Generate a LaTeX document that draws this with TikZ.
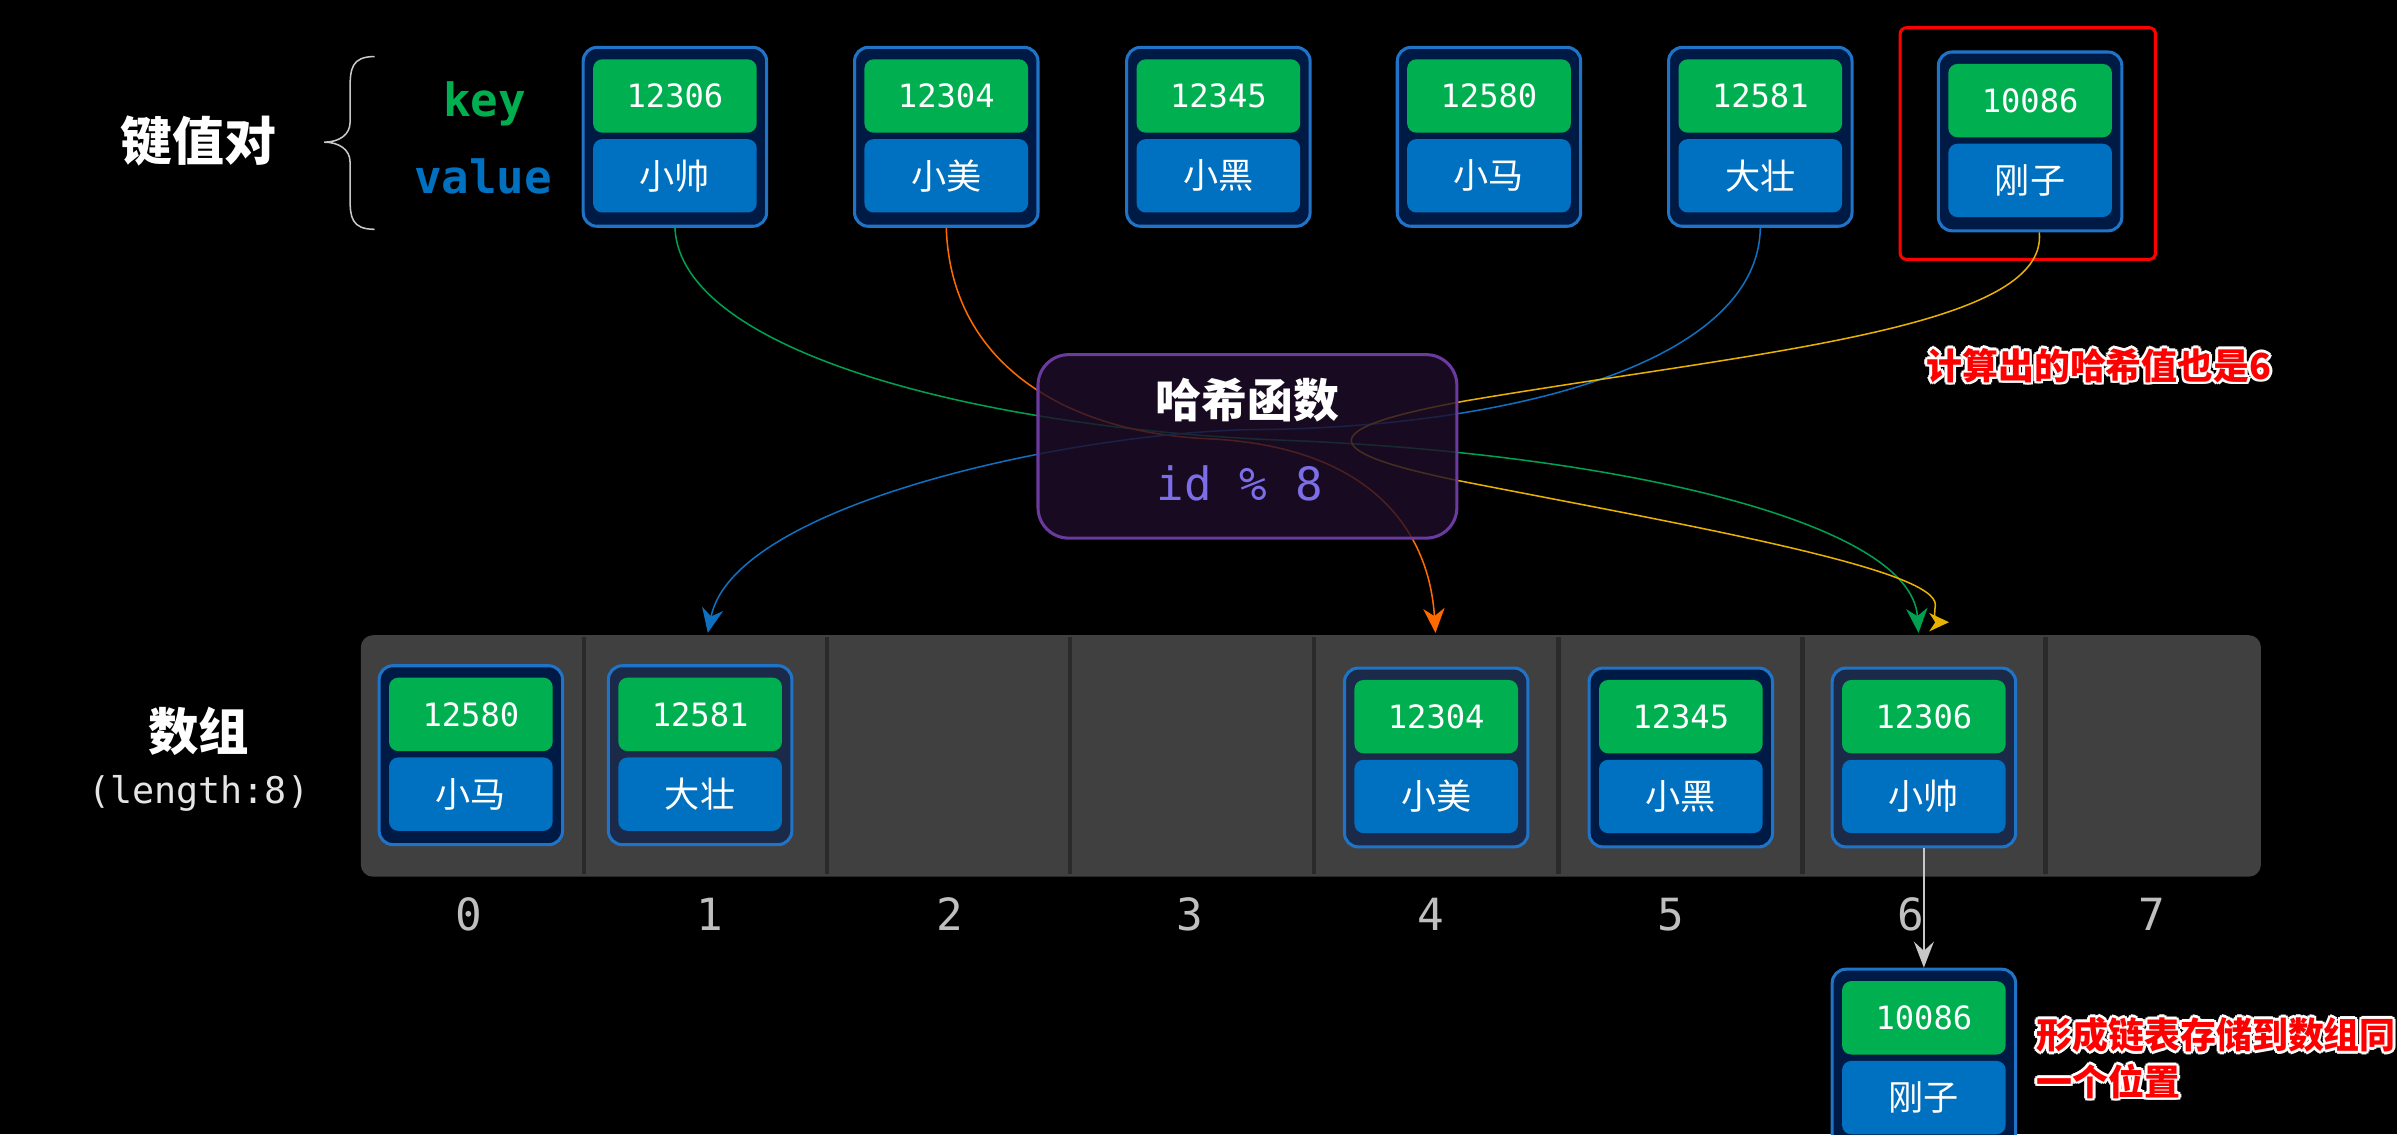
\documentclass[tikz,border=0pt]{standalone}
\usepackage{fontspec}
\usetikzlibrary{arrows.meta}
\newfontfamily\cjkf{Noto Sans CJK SC}
\newfontfamily\monof{DejaVu Sans Mono}
\definecolor{kgreen}{HTML}{00B050}
\definecolor{vblue}{HTML}{0070C0}
\definecolor{navy}{HTML}{001A46}
\definecolor{navyg}{HTML}{1B2A48}
\definecolor{bborder}{HTML}{1F74C8}
\definecolor{hfill}{HTML}{1E0D28}
\definecolor{hborder}{HTML}{6A3A9E}
\definecolor{idcol}{HTML}{7B6EE8}
\definecolor{arrfill}{HTML}{404040}
\definecolor{divc}{HTML}{2A2A2A}
\definecolor{cgreen}{HTML}{00A050}
\definecolor{corange}{HTML}{FF6A00}
\definecolor{cblue}{HTML}{1070C0}
\definecolor{cgold}{HTML}{E8B000}
\definecolor{idxcol}{HTML}{BFBFBF}
\tikzset{
  outerbox/.style={draw=bborder, line width=2pt, fill=#1, rounded corners=9pt,
    minimum width=120pt, minimum height=117pt, inner sep=0pt},
  keybox/.style={fill=kgreen, rounded corners=6pt, minimum width=107pt,
    minimum height=48pt, inner sep=0pt, text=white, font=\monof\fontsize{21}{21}\selectfont},
  valbox/.style={fill=vblue, rounded corners=6pt, minimum width=107pt,
    minimum height=48pt, inner sep=0pt, text=white, font=\cjkf\fontsize{23}{23}\selectfont},
  link/.style={line width=1pt, -{Stealth[length=16pt,width=14pt,inset=5pt]}},
  idxlabel/.style={text=idxcol, font=\monof\fontsize{29}{29}\selectfont, inner sep=0pt},
  redtxt/.style={text=red, font=\cjkf\bfseries\fontsize{23.5}{30.6}\selectfont, inner sep=0pt, align=left},
  divider/.style={draw=divc, line width=3pt},
}
\newcommand\kvbox[6]{%
  \node[outerbox=#6] (#1) at (#2,#3+58.5) {};
  \node[keybox] (#1k) at (#2,#3+31.8) {#4};
  \node[valbox] (#1v) at (#2,#3+84) {#5};
}
\newcommand\outl[4]{%
  \foreach \dx/\dy [count=\n] in {1.8/0,-1.8/0,0/1.8,0/-1.8,1.3/1.3,-1.3/1.3,1.3/-1.3,-1.3/-1.3}
    \node[redtxt, text=white, anchor=#3] (#1w\n) at ([shift={(\dx pt,\dy pt)}]#2) {#4};
  \node[redtxt, anchor=#3] (#1) at (#2) {#4};
}
\begin{document}
\begin{tikzpicture}[x=1pt, y=-1pt]
\useasboundingbox (0,0) rectangle (1568,742);
\clip (0,0) rectangle (1568,742);
\fill[black] (0,0) rectangle (1568,742);

% left titles
\node[text=white, font=\cjkf\bfseries\fontsize{34}{34}\selectfont] (kvtitle) at (130,92) {键值对};
\draw[color=idxcol!85, line width=1pt] (245,37) .. controls (230,37) and (229,45) .. (229,58)
  -- (229,80) .. controls (229,88) and (222,93) .. (212,93)
  .. controls (222,93) and (229,98) .. (229,106) -- (229,130)
  .. controls (229,142) and (230,150) .. (245,150);
\node[text=kgreen, font=\monof\bfseries\fontsize{30}{30}\selectfont] (keylbl) at (317,68) {key};
\node[text=vblue, font=\monof\bfseries\fontsize{30}{30}\selectfont] (vallbl) at (316,115.5) {value};

% top key-value boxes
\kvbox{t1}{441.5}{31}{12306}{小帅}{navy}
\kvbox{t2}{619}{31}{12304}{小美}{navy}
\kvbox{t3}{797}{31}{12345}{小黑}{navy}
\kvbox{t4}{974}{31}{12580}{小马}{navy}
\kvbox{t5}{1151.5}{31}{12581}{大壮}{navy}
\kvbox{t6}{1328}{34}{10086}{刚子}{navy}
\node[draw=red, line width=2pt, rounded corners=4pt, minimum width=167pt,
  minimum height=151.5pt, inner sep=0pt] (frame) at (1326.5,93.9) {};

% array
\node[fill=arrfill, rounded corners=8pt, minimum width=1243pt, minimum height=158pt,
  inner sep=0pt] (arr) at (857.5,494.5) {};
\foreach \xx in {382,541,700,859.6,1019.5,1179,1338}
  \draw[divider] (\xx,417) -- (\xx,572);

% endpoints on the array
\coordinate (e1) at (463,414);
\coordinate (e4) at (939,414);
\coordinate (e6) at (1255,414);
\coordinate (eg) at (1275,407);

% curves
\draw[link, cgreen] (t1.south) .. controls (445,230) and (640,280) .. (840,288)
  .. controls (1050,296) and (1250,340) .. (e6);
\draw[link, corange] (t2.south) .. controls (622,240) and (700,283) .. (790,287)
  .. controls (900,292) and (935,350) .. (e4);
\draw[link, cblue] (t5.south) .. controls (1150,240) and (980,280) .. (820,281)
  .. controls (700,283) and (480,330) .. (e1);
\draw[line width=1pt, cgold, -{Stealth[length=13pt,width=12pt,inset=4pt]}]
  ([xshift=6pt]t6.south) .. controls (1340,215) and (1150,230) .. (960,262)
  .. controls (860,280) and (860,295) .. (952,314)
  .. controls (1100,343) and (1268,372) .. (1266,396)
  .. controls (1265,403) and (1266,407) .. (eg);

% hash function
\node[fill=hfill, fill opacity=0.8, draw=hborder, line width=2pt, rounded corners=20pt,
  minimum width=274pt, minimum height=120pt, inner sep=0pt] (hash) at (816,292) {};
\node[text=white, font=\cjkf\bfseries\fontsize{30}{30}\selectfont] (hasht) at (816,262) {哈希函数};
\node[text=idcol, font=\monof\fontsize{30}{30}\selectfont] (hashf) at (811,316) {id \% 8};

% array content
\kvbox{a0}{308}{435.5}{12580}{小马}{navy}
\kvbox{a1}{458}{435.5}{12581}{大壮}{navyg}
\kvbox{a4}{939.5}{437}{12304}{小美}{navyg}
\kvbox{a5}{1099.5}{437}{12345}{小黑}{navy}
\kvbox{a6}{1258.5}{437}{12306}{小帅}{navyg}
\kvbox{c6}{1258.5}{634}{10086}{刚子}{navy}

\foreach \k in {0,...,7}
  \node[idxlabel] (i\k) at (307+157.2*\k,598) {\k};

\node[text=white, font=\cjkf\bfseries\fontsize{33}{33}\selectfont] (arrtitle) at (130,478.5) {数组};
\node[text=white!90!black, font=\monof\fontsize{24}{24}\selectfont] (arrlen) at (130,519) {(length:8)};

\draw[line width=1.5pt, color=white!78!black, -{Stealth[length=17pt,width=13pt,inset=6pt]}]
  (a6.south) -- (c6.north);

% red notes
\coordinate (p1) at (1373,239);
\outl{note1}{p1}{center}{计算出的哈希值也是6}
\coordinate (p2) at (1332,692);
\outl{note2}{p2}{west}{形成链表存储到数组同\\一个位置}
\end{tikzpicture}
\end{document}
